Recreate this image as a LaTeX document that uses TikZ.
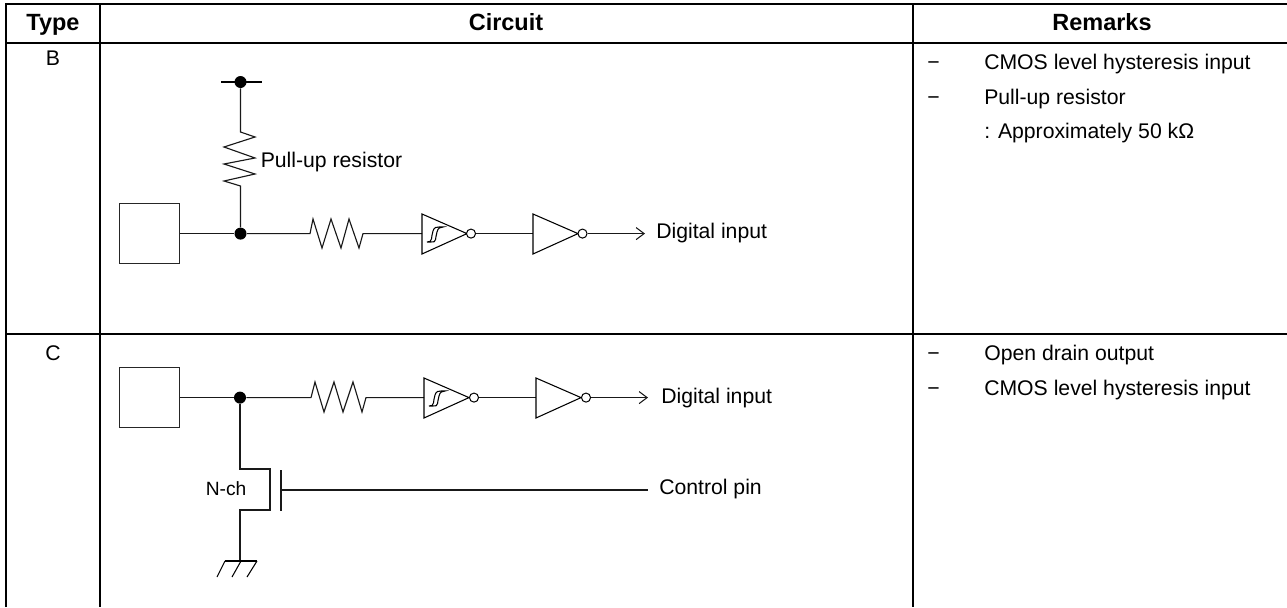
\documentclass[tikz,border=0pt]{standalone}
\usepackage{fontspec}
\setmainfont{Liberation Sans}
\usetikzlibrary{arrows.meta}
\tikzset{
  tbl/.style={line width=1.6pt,black},
  wire/.style={line width=0.85pt,black!90,line join=miter},
  thin wire/.style={line width=0.8pt,black},
  lbl/.style={inner sep=0pt,anchor=base west,font=\fontsize{15.9pt}{18pt}\selectfont},
  small lbl/.style={inner sep=0pt,anchor=base west,font=\fontsize{14.4pt}{16pt}\selectfont},
  hdr/.style={inner sep=0pt,anchor=base,font=\fontsize{17.6pt}{20pt}\selectfont\bfseries},
  jn/.style={circle,fill=black,inner sep=0pt,minimum size=9pt},
  pad/.style={draw=black!85,line width=0.8pt,inner sep=0pt,minimum width=45.5pt,minimum height=45pt},
  bubble/.style={circle,draw=black,fill=white,line width=0.75pt,inner sep=0pt,minimum size=6.8pt},
  openarrow/.style={-{Straight Barb[length=6pt,width=9pt,line width=0.8pt]}}
}
\begin{document}
\begin{tikzpicture}[x=0.75pt,y=-0.75pt]
\useasboundingbox (0,0) rectangle (1287,607);
% table
\draw[tbl] (6,607) -- (6,4) -- (1287,4);
\draw[tbl] (6,43) -- (1287,43) (6,334) -- (1287,334);
\draw[tbl] (100,4) -- (100,607) (913,4) -- (913,607);
\node[hdr] (h1) at (53,30) {Type};
\node[hdr] (h2) at (506,30) {Circuit};
\node[hdr] (h3) at (1102,30) {Remarks};
\node[lbl,anchor=base] (tb) at (53,65) {B};
\node[lbl,anchor=base] (tc) at (53,360) {C};
% --- circuit B
\node[pad] (pb) at (149.5,233.6) {};
\node[jn] (jb) at (240.5,233.6) {};
\node[jn] (vb) at (240.5,82) {};
\coordinate (vl) at (221,82); \coordinate (vr) at (262,82);
\draw[thin wire] (vl) -- (vr);
\draw[wire] (vb) -- (240.5,132) -- (255,137) -- (224,147) -- (255,158) -- (224,164) -- (255,174) -- (224,181) -- (240.5,186) -- (jb);
\node[lbl] (pu) at (260.5,167) {Pull-up resistor};
\coordinate (t1b) at (422,233.6);
\draw[wire] (pb) -- (jb);
\draw[wire] (jb) -- (310,233.6) -- (313,219) -- (322,248) -- (331,219) -- (341,248) -- (349,219) -- (359,248) -- (363,233.6) -- (t1b);
\draw[thin wire] (422,214) -- (467,233.6) -- (422,254) -- cycle;
\draw[thin wire] (427,242) .. controls (433,243) and (431,236) .. (433,231) .. controls (434,227) and (437,227) .. (439,227) -- (443,227) .. controls (440,227) and (438,228) .. (437,232) .. controls (435,238) and (437,243) .. (431,242) -- cycle;
\node[bubble] (b1b) at (471,233.6) {};
\coordinate (t2b) at (533,233.6);
\draw[wire] (b1b) -- (t2b);
\draw[thin wire] (533,214) -- (578,233.6) -- (533,254) -- cycle;
\node[bubble] (b2b) at (582.5,233.6) {};
\coordinate (ab) at (645,233.6);
\draw[wire,openarrow] (b2b) -- (ab);
\node[lbl] (dib) at (656,238) {Digital input};
% --- circuit C
\node[pad] (pc) at (149.5,397.6) {};
\node[jn] (jc) at (240,397.6) {};
\coordinate (t1c) at (424,397.6);
\draw[wire] (pc) -- (jc);
\draw[wire] (jc) -- (311,397.6) -- (315,382) -- (324,412) -- (334,382) -- (343,412) -- (353,382) -- (362,412) -- (366,397.6) -- (t1c);
\draw[thin wire] (424,378) -- (469,397.6) -- (424,418) -- cycle;
\draw[thin wire] (429,406) .. controls (435,407) and (433,400) .. (435,395) .. controls (436,391) and (439,391) .. (441,391) -- (445,391) .. controls (442,391) and (440,392) .. (439,396) .. controls (437,402) and (439,407) .. (433,406) -- cycle;
\node[bubble] (b1c) at (474,397.6) {};
\coordinate (t2c) at (536,397.6);
\draw[wire] (b1c) -- (t2c);
\draw[thin wire] (536,378) -- (581,397.6) -- (536,418) -- cycle;
\node[bubble] (b2c) at (586,397.6) {};
\coordinate (ac) at (648,397.6);
\draw[wire,openarrow] (b2c) -- (ac);
\node[lbl] (dic) at (661,403) {Digital input};
% mosfet
\coordinate (gnd) at (240,561);
\draw[wire] (jc) -- (240,469) -- (270,469) -- (270,510) -- (240,510) -- (gnd);
\coordinate (g) at (281,490);
\coordinate (cp) at (648,490);
\draw[wire] (281,470) -- (281,511);
\draw[wire] (g) -- (cp);
\node[small lbl] (nch) at (205.5,495) {N-ch};
\node[lbl] (cpl) at (659,494) {Control pin};
\draw[thin wire] (225,561) -- (257,561);
\draw[thin wire] (225,561) -- (217,577) (241,561) -- (232,577) (257,561) -- (247,577);
% remarks
\node[lbl] (d1) at (927,69) {−};
\node[lbl] (r1) at (984,69) {CMOS level hysteresis input};
\node[lbl] (d2) at (927,104) {−};
\node[lbl] (r2) at (984,104) {Pull-up resistor};
\node[lbl] (r3) at (984,138) {: Approximately 50 kΩ};
\node[lbl] (d3) at (927,360) {−};
\node[lbl] (r4) at (984,360) {Open drain output};
\node[lbl] (d4) at (927,395) {−};
\node[lbl] (r5) at (984,395) {CMOS level hysteresis input};
\end{tikzpicture}
\end{document}
